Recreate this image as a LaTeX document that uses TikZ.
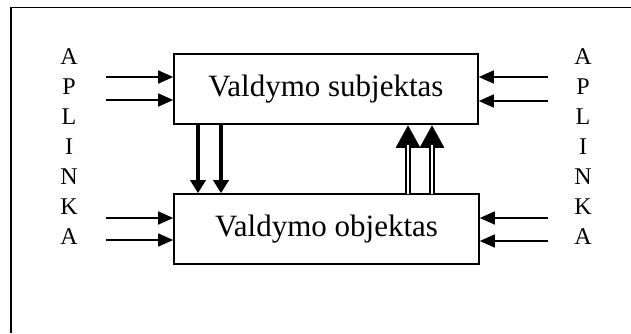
\documentclass[tikz,border=0pt]{standalone}
\usepackage{fontspec}
\setmainfont{Liberation Serif}
\usetikzlibrary{arrows.meta}
\begin{document}
\begin{tikzpicture}[x=1pt,y=-1pt,
  blk/.style={draw,line width=1.6pt,minimum width=304pt,minimum height=70pt,inner sep=0pt,
    font=\fontsize{31}{36}\selectfont},
  letter/.style={inner sep=0pt,font=\fontsize{24}{28}\selectfont},
  inarrow/.style={line width=1.6pt,-{Triangle[length=15pt,width=13pt]}},
  downarrow/.style={line width=3.4pt,-{Triangle[length=13pt,width=15pt]}},
  uparrow/.style={line width=6pt,-{Triangle[length=23pt,width=23pt]}},
  gap/.style={line width=2pt,white}]
\useasboundingbox (0,0) rectangle (631,333);
\draw[line width=1.6pt] (11,333) -- (11,7.5) -- (631,7.5);
\node[blk] (sub) at (326,89) {Valdymo subjektas};
\node[blk,minimum width=305pt] (obj) at (326.5,229) {Valdymo objektas};
% letters
\foreach \c [count=\i] in {A,P,L,I,N,K,A}{
  \node[letter] (L\i) at (69,{27+30*\i}) {\c};
  \node[letter] (R\i) at (583,{27+30*\i}) {\c};
}
% left inputs
\coordinate (la) at (106,77);
\coordinate (lb) at (106,100);
\coordinate (lc) at (106,218);
\coordinate (ld) at (106,240);
\draw[inarrow] (la) -- (la -| sub.west);
\draw[inarrow] (lb) -- (lb -| sub.west);
\draw[inarrow] (lc) -- (lc -| obj.west);
\draw[inarrow] (ld) -- (ld -| obj.west);
% right inputs
\coordinate (ra) at (548,77);
\coordinate (rb) at (548,101);
\coordinate (rc) at (548,218);
\coordinate (rd) at (548,241);
\draw[inarrow] (ra) -- (ra -| sub.east);
\draw[inarrow] (rb) -- (rb -| sub.east);
\draw[inarrow] (rc) -- (rc -| obj.east);
\draw[inarrow] (rd) -- (rd -| obj.east);
% down arrows
\coordinate (d1) at (198,0);
\coordinate (d2) at (221,0);
\draw[downarrow] (sub.south -| d1) -- (obj.north -| d1);
\draw[downarrow] (sub.south -| d2) -- (obj.north -| d2);
% up arrows (double shafts)
\coordinate (u1) at (408,0);
\coordinate (u2) at (432,0);
\coordinate (g1) at (408,145);
\coordinate (g2) at (432,145);
\draw[uparrow] (obj.north -| u1) -- (sub.south -| u1);
\draw[uparrow] (obj.north -| u2) -- (sub.south -| u2);
\draw[gap] ([yshift=-1pt]obj.north -| u1) -- (g1);
\draw[gap] ([yshift=-1pt]obj.north -| u2) -- (g2);
\end{tikzpicture}
\end{document}
